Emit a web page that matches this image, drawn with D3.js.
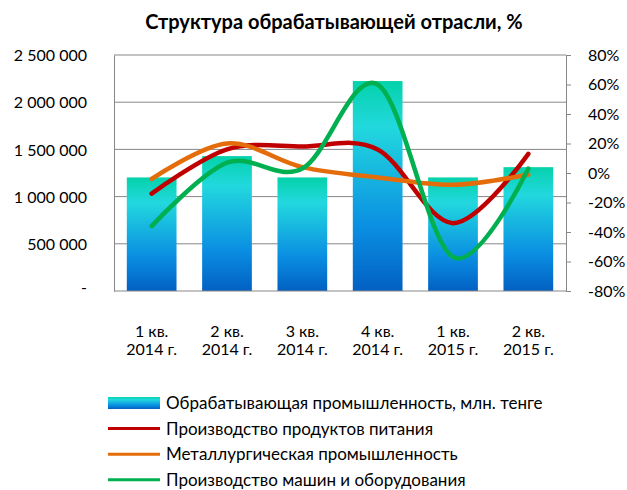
<!DOCTYPE html>
<html>
<head>
<meta charset="utf-8">
<script src="https://cdn.jsdelivr.net/npm/d3@7"></script>
<style>
  body { margin: 0; background: #fff; }
  svg text { font-family: Lato, "Open Sans", sans-serif; fill: #000; }
</style>
</head>
<body>
<svg id="chart" width="627" height="490"></svg>
<script>
const quarters = ['1 кв.|2014 г.', '2 кв.|2014 г.', '3 кв.|2014 г.', '4 кв.|2014 г.', '1 кв.|2015 г.', '2 кв.|2015 г.']
const industryVolume = [1203000, 1429000, 1203000, 2224000, 1203000, 1312000]
const foodGrowth = [-14, 16, 18, 16, -34, 13]
const metalGrowth = [-4, 20, 4, -3, -8, -1]
const machineGrowth = [-36, 7, 3, 60, -57, 3]
const leftTicks = [0, 500000, 1000000, 1500000, 2000000, 2500000]
const rightTicks = [-80, -60, -40, -20, 0, 20, 40, 60, 80]

const lineSeries = [
  { name: 'Производство продуктов питания', values: foodGrowth, color: '#c00000' },
  { name: 'Металлургическая промышленность', values: metalGrowth, color: '#e46c0a' },
  { name: 'Производство машин и оборудования', values: machineGrowth, color: '#00b050' }
]

const svg = d3.select('#chart')
const margin = { left: 114, right: 61, top: 55, bottom: 199 }
const width = 627 - margin.left - margin.right
const height = 490 - margin.top - margin.bottom

// gradient for the bars
const grad = svg.append('defs').append('linearGradient')
  .attr('id', 'barGrad')
  .attr('x1', 0).attr('y1', 0).attr('x2', 0).attr('y2', 1)
grad.append('stop').attr('offset', '0%').attr('stop-color', '#04d2aa')
grad.append('stop').attr('offset', '22%').attr('stop-color', '#22d8de')
grad.append('stop').attr('offset', '70%').attr('stop-color', '#0a8ee2')
grad.append('stop').attr('offset', '100%').attr('stop-color', '#0260c2')

svg.append('text')
  .attr('x', 334).attr('y', 29)
  .attr('text-anchor', 'middle')
  .style('font-size', '20px')
  .style('font-weight', 'bold')
  .text('Структура обрабатывающей отрасли, %')

const g = svg.append('g').attr('transform', `translate(${margin.left},${margin.top})`)

const x = d3.scaleBand().domain(d3.range(quarters.length)).range([0, width]).paddingInner(0.34).paddingOuter(0.17)
const yLeft = d3.scaleLinear().domain([0, 2500000]).range([height, 0])
const yRight = d3.scaleLinear().domain([-80, 80]).range([height, 0])

// gridlines
g.append('g')
  .selectAll('line')
  .data(leftTicks.slice(1))
  .enter().append('line')
  .attr('x1', 0).attr('x2', width)
  .attr('y1', d => yLeft(d)).attr('y2', d => yLeft(d))
  .attr('stroke', '#878787').attr('stroke-width', 1)

// bars
g.append('g')
  .selectAll('rect')
  .data(industryVolume)
  .enter().append('rect')
  .attr('x', (d, i) => x(i))
  .attr('width', x.bandwidth())
  .attr('y', d => yLeft(d))
  .attr('height', d => height - yLeft(d))
  .attr('fill', 'url(#barGrad)')

// left axis
const fmt = d => d === 0 ? '-' : d3.format(',')(d).replace(/,/g, ' ')
const leftAxis = g.append('g')
  .call(d3.axisLeft(yLeft).tickValues(leftTicks).tickFormat(fmt).tickSize(0).tickPadding(27))
leftAxis.select('.domain').attr('stroke', '#878787')
leftAxis.selectAll('text').style('font-size', '16px').attr('dy', '0.35em')
leftAxis.selectAll('.tick').filter(d => d === 0).select('text').attr('dy', '0.1em')

// right axis
const rightAxis = g.append('g')
  .attr('transform', `translate(${width},0)`)
  .call(d3.axisRight(yRight).tickValues(rightTicks).tickFormat(d => d + '%').tickSize(5).tickPadding(17))
rightAxis.select('.domain').attr('stroke', '#878787')
rightAxis.selectAll('line').attr('stroke', '#878787')
rightAxis.selectAll('text').style('font-size', '16px')

// bottom axis line
g.append('line')
  .attr('x1', 0).attr('x2', width)
  .attr('y1', height).attr('y2', height)
  .attr('stroke', '#878787')

// category labels
const catLabels = g.append('g').selectAll('text')
  .data(quarters)
  .enter().append('text')
  .attr('text-anchor', 'middle')
  .attr('transform', (d, i) => `translate(${x(i) + x.bandwidth() / 2},${height + 46})`)
  .style('font-size', '16px')
catLabels.each(function (d) {
  const parts = d.split('|')
  d3.select(this).selectAll('tspan')
    .data(parts)
    .enter().append('tspan')
    .attr('x', 0)
    .attr('dy', (p, j) => j === 0 ? 0 : '1.15em')
    .text(p => p)
})

// smoothed lines
const line = d3.line()
  .x((d, i) => x(i) + x.bandwidth() / 2)
  .y(d => yRight(d))
  .curve(d3.curveCardinal.tension(0))

g.append('g')
  .selectAll('path')
  .data(lineSeries)
  .enter().append('path')
  .attr('d', d => line(d.values))
  .attr('fill', 'none')
  .attr('stroke', d => d.color)
  .attr('stroke-width', 4.5)
  .attr('stroke-linecap', 'round')

// legend
const legend = svg.append('g').attr('transform', 'translate(108,403)')
const legendItems = [{ name: 'Обрабатывающая промышленность, млн. тенге', bar: true }].concat(lineSeries)
const item = legend.selectAll('g')
  .data(legendItems)
  .enter().append('g')
  .attr('transform', (d, i) => `translate(0,${i * 25.6})`)
item.each(function (d) {
  const el = d3.select(this)
  if (d.bar) {
    el.append('rect').attr('x', 0).attr('y', -6).attr('width', 52).attr('height', 12).attr('fill', 'url(#barGrad)')
  } else {
    el.append('line').attr('x1', 0).attr('x2', 52).attr('y1', 0).attr('y2', 0)
      .attr('stroke', d.color).attr('stroke-width', 3)
  }
})
item.append('text')
  .attr('x', 58).attr('dy', '0.35em')
  .style('font-size', '17px')
  .text(d => d.name)
</script>
</body>
</html>
